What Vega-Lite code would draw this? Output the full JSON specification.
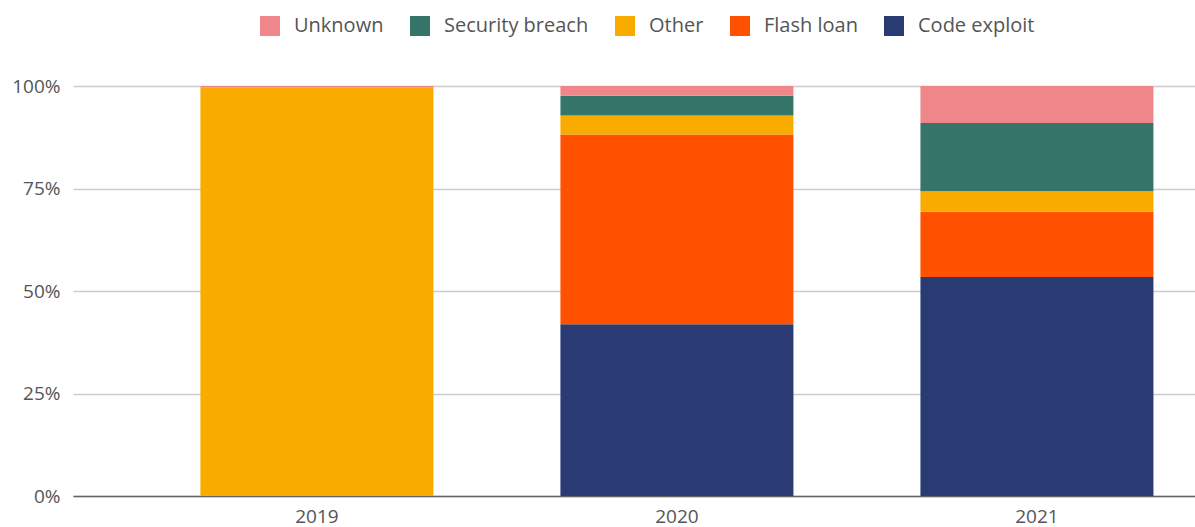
{
  "$schema": "https://vega.github.io/schema/vega-lite/v6.json",
  "width": 1122,
  "height": 410,
  "autosize": {"type": "none"},
  "padding": {"left": 73, "top": 86, "right": 0, "bottom": 31},
  "background": "white",
  "config": {
    "view": {"stroke": null},
    "font": "Open Sans",
    "axis": {"labelFont": "Open Sans", "labelColor": "#555555", "labelFontSize": 19, "title": null}
  },
  "data": {
    "values": [
      {"year": "2019", "type": "Code exploit", "share": 0},
      {"year": "2019", "type": "Flash loan", "share": 0},
      {"year": "2019", "type": "Other", "share": 99.6},
      {"year": "2019", "type": "Security breach", "share": 0},
      {"year": "2019", "type": "Unknown", "share": 0.4},
      {"year": "2020", "type": "Code exploit", "share": 41.9},
      {"year": "2020", "type": "Flash loan", "share": 46.3},
      {"year": "2020", "type": "Other", "share": 4.6},
      {"year": "2020", "type": "Security breach", "share": 4.8},
      {"year": "2020", "type": "Unknown", "share": 2.4},
      {"year": "2021", "type": "Code exploit", "share": 53.4},
      {"year": "2021", "type": "Flash loan", "share": 15.9},
      {"year": "2021", "type": "Other", "share": 5.0},
      {"year": "2021", "type": "Security breach", "share": 16.7},
      {"year": "2021", "type": "Unknown", "share": 9.0}
    ]
  },
  "transform": [
    {"calculate": "indexof(['Code exploit','Flash loan','Other','Security breach','Unknown'], datum.type)", "as": "stackOrder"}
  ],
  "mark": {"type": "bar"},
  "encoding": {
    "x": {
      "field": "year", "type": "nominal",
      "scale": {"paddingInner": 0.3528, "paddingOuter": 0.2347, "align": 0.754},
      "axis": {"labelAngle": 0, "ticks": false, "domainColor": "#666666", "domainWidth": 1.5, "labelPadding": 11, "grid": false}
    },
    "y": {
      "field": "share", "type": "quantitative", "stack": "zero",
      "scale": {"domain": [0, 100], "nice": false},
      "axis": {"values": [0, 25, 50, 75, 100], "labelExpr": "datum.value + '%'", "domain": false, "ticks": false, "gridColor": "#cccccc", "gridWidth": 1.5, "labelPadding": 13}
    },
    "color": {
      "field": "type", "type": "nominal",
      "scale": {
        "domain": ["Unknown", "Security breach", "Other", "Flash loan", "Code exploit"],
        "range": ["#EF878A", "#36756A", "#FAAB00", "#FF5100", "#2A3A73"]
      },
      "legend": {
        "title": null, "orient": "none", "direction": "horizontal",
        "legendX": 187, "legendY": -70,
        "symbolType": "square", "symbolSize": 400, "symbolStrokeWidth": 0, "symbolOpacity": 1,
        "labelFont": "Open Sans", "labelFontSize": 20, "labelColor": "#555555",
        "labelOffset": 14, "columnPadding": 26
      }
    },
    "order": {"field": "stackOrder", "type": "quantitative"}
  }
}
